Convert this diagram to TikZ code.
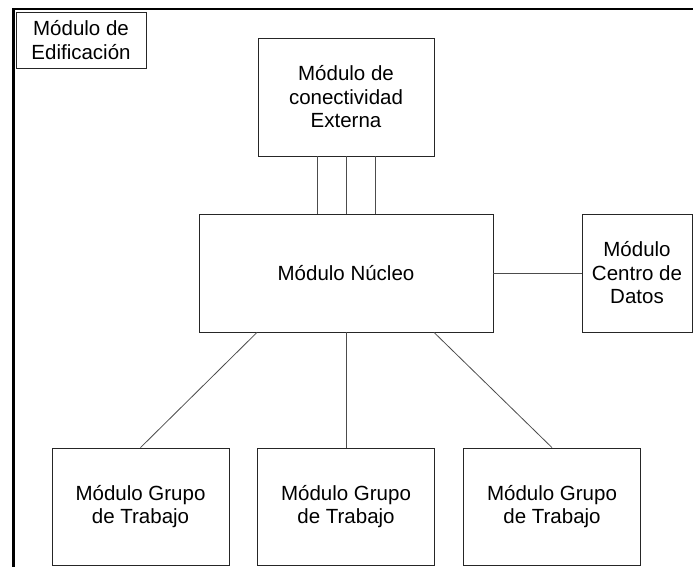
\documentclass[tikz,border=0pt]{standalone}
\usepackage{fontspec}
\setmainfont{Liberation Sans}
\begin{document}
\begin{tikzpicture}[x=1pt,y=-1pt,
  box/.style={draw=black!85, line width=0.8pt, align=center, inner sep=0pt,
    font=\fontsize{20.5}{23.5}\selectfont},
  link/.style={draw=black!70, line width=0.8pt},
  frame/.style={draw=black, line width=2.6pt}]
\useasboundingbox (0,0) rectangle (693,566);
% outer frame
\coordinate (fa) at (13.5,570);
\coordinate (fb) at (13.5,9);
\coordinate (fc) at (697,9);
\draw[frame] (fa) -- (fb) -- (fc);
% label
\node[box, minimum width=130pt, minimum height=56pt] (lbl) at (81,40) {Módulo de\\Edificación};
% nodes
\node[box, minimum width=176pt, minimum height=118pt] (top) at (346,97) {Módulo de\\conectividad\\Externa};
\node[box, minimum width=294pt, minimum height=118pt] (core) at (346,273) {Módulo Núcleo};
\node[box, minimum width=110pt, minimum height=118pt] (dc) at (637,273) {Módulo\\Centro de\\Datos};
\node[box, minimum width=177pt, minimum height=117pt] (g1) at (140.5,506.5) {Módulo Grupo\\de Trabajo};
\node[box, minimum width=177pt, minimum height=117pt] (g2) at (346,506.5) {Módulo Grupo\\de Trabajo};
\node[box, minimum width=177pt, minimum height=117pt] (g3) at (552,506.5) {Módulo Grupo\\de Trabajo};
% connectors
\draw[link] ([xshift=-29pt]top.south) -- ([xshift=-29pt]top.south |- core.north);
\draw[link] (top.south) -- (core.north);
\draw[link] ([xshift=29pt]top.south) -- ([xshift=29pt]top.south |- core.north);
\draw[link] (core.east) -- (dc.west);
\draw[link] ([xshift=-89pt]core.south) -- (g1.north);
\draw[link] (core.south) -- (g2.north);
\draw[link] ([xshift=88pt]core.south) -- (g3.north);
\end{tikzpicture}
\end{document}
